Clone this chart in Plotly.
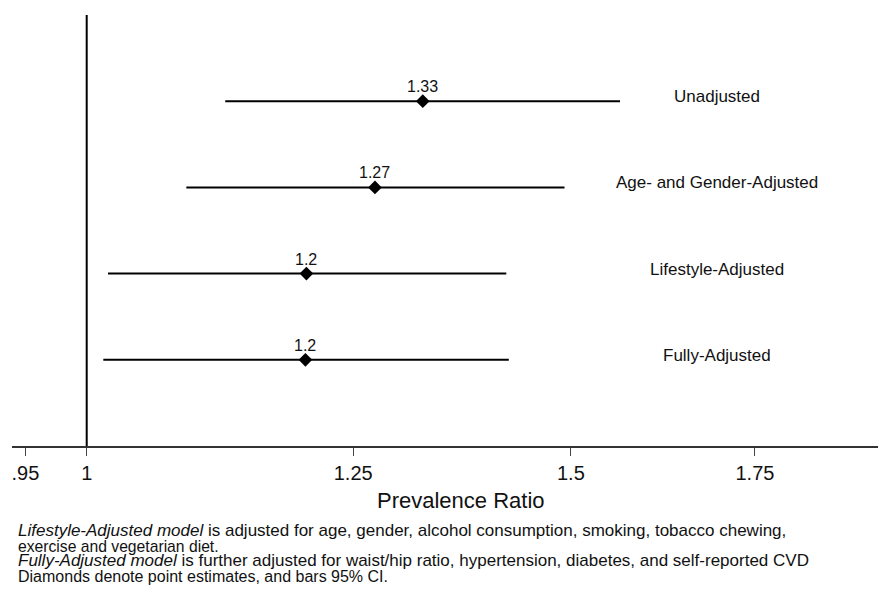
import math
import plotly.graph_objects as go

# ---- data ----
models = ["Unadjusted", "Age- and Gender-Adjusted", "Lifestyle-Adjusted", "Fully-Adjusted"]
pr_point = [1.325, 1.273, 1.202, 1.201]
pr_lower = [1.123, 1.087, 1.018, 1.014]
pr_upper = [1.563, 1.492, 1.421, 1.424]
pr_labels = ["1.33", "1.27", "1.2", "1.2"]
tick_vals = [0.95, 1, 1.25, 1.5, 1.75]
tick_text = [".95", "1", "1.25", "1.5", "1.75"]
footnotes = [
    "<i>Lifestyle-Adjusted model</i> is adjusted for age, gender, alcohol consumption, smoking, tobacco chewing,",
    "exercise and vegetarian diet.",
    "<i>Fully-Adjusted model</i> is further adjusted for waist/hip ratio, hypertension, diabetes, and self-reported CVD",
    "Diamonds denote point estimates, and bars 95% CI.",
]

OFF = 8  # page body margin of the browser
W, H = 886 - OFF, 591 - OFF
ML, MR, MT, MB = 12 - OFF, 0, 15 - OFF, 145
plot_h = H - MT - MB
plot_w = W - ML - MR
FONT = "Liberation Sans, Arial, Helvetica, sans-serif"
TXT = "#111111"

def ypaper(px):
    return (H - MB - (px - OFF)) / plot_h

def xpaper(px):
    return (px - OFF - ML) / plot_w

n = len(models)
ypos = [n - i for i in range(n)]  # 4,3,2,1

fig = go.Figure()

# CI bars
for i in range(n):
    fig.add_trace(go.Scatter(
        x=[pr_lower[i], pr_upper[i]], y=[ypos[i], ypos[i]],
        mode="lines", line=dict(color="black", width=2),
        showlegend=False, hoverinfo="skip"))

# point estimates
fig.add_trace(go.Scatter(
    x=pr_point, y=ypos, mode="markers",
    marker=dict(symbol="diamond", size=10.5, color="black", line=dict(width=0)),
    showlegend=False))

annotations = []
# value labels
for i in range(n):
    annotations.append(dict(
        x=math.log10(pr_point[i]), y=ypos[i], xref="x", yref="y",
        text=pr_labels[i], showarrow=False, yanchor="middle", xanchor="center",
        yshift=14.6, font=dict(family=FONT, size=16, color=TXT)))
# model labels on right
for i in range(n):
    annotations.append(dict(
        x=xpaper(716.5), y=ypos[i], xref="paper", yref="y",
        text=models[i], showarrow=False, yanchor="middle", xanchor="center",
        yshift=4.5, font=dict(family=FONT, size=17, color=TXT)))
# axis title
annotations.append(dict(
    x=xpaper(461), y=ypaper(501), xref="paper", yref="paper",
    text="Prevalence Ratio", showarrow=False, xanchor="center", yanchor="middle",
    font=dict(family=FONT, size=22, color=TXT)))
# footnotes
baselines = [536.7, 551.7, 566.7, 581.7]
fsizes = [17, 15.7, 17, 16]
for txt, b, fs in zip(footnotes, baselines, fsizes):
    annotations.append(dict(
        x=xpaper(16), y=ypaper(b - 0.3465 * fs), xref="paper", yref="paper",
        text=txt, showarrow=False, xanchor="left", yanchor="middle",
        font=dict(family=FONT, size=fs, color=TXT)))

fig.update_layout(
    width=W, height=H,
    margin=dict(l=ML, r=MR, t=MT, b=MB, pad=0),
    paper_bgcolor="white", plot_bgcolor="white",
    annotations=annotations,
    shapes=[dict(type="line", xref="x", yref="paper", x0=1, x1=1, y0=0, y1=1,
                 line=dict(color="black", width=2))],
    xaxis=dict(
        type="log", range=[-0.02717, 0.29069],
        tickvals=tick_vals, ticktext=tick_text,
        ticks="outside", ticklen=8, tickwidth=1, tickcolor="#444",
        showline=True, linecolor="#333", linewidth=1.5,
        showgrid=False, zeroline=False, automargin=False,
        tickfont=dict(family=FONT, size=20, color=TXT)),
    yaxis=dict(range=[0, 5], visible=False, showgrid=False, zeroline=False, automargin=False),
    font=dict(family=FONT, color=TXT),
)

fig.write_html("out.html")
